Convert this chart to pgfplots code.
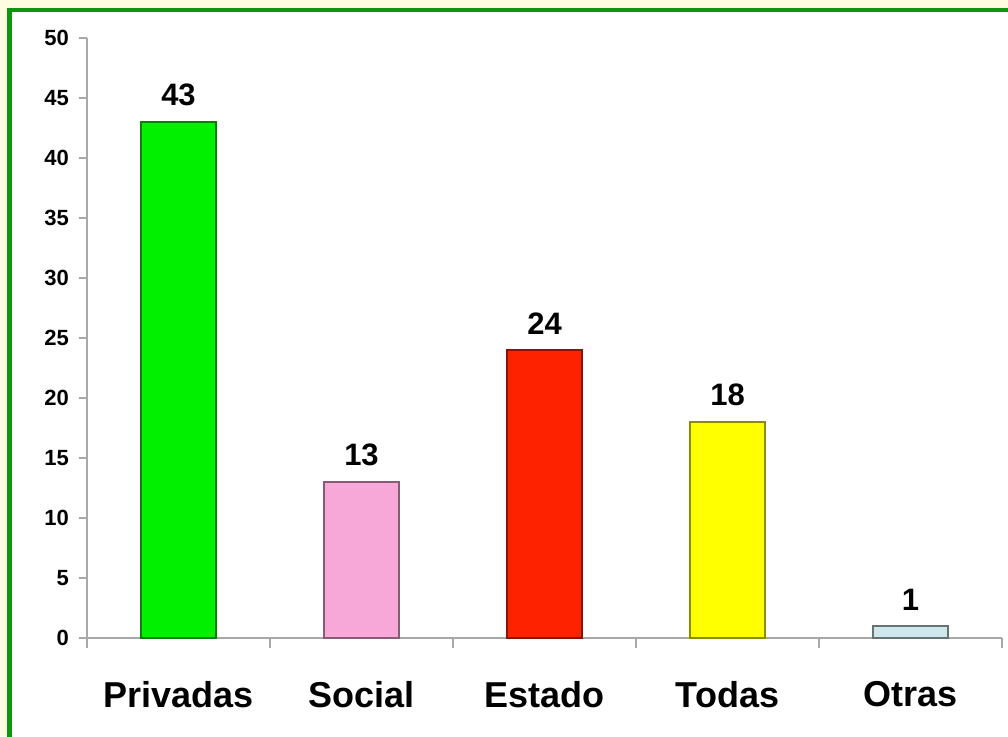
\documentclass[border=0pt]{standalone}
\usepackage{pgfplots}
\pgfplotsset{compat=1.18}
\usepackage{fontspec}
\setmainfont{Liberation Sans}
\definecolor{bgyellow}{HTML}{FFFCE0}
\definecolor{framegreen}{HTML}{109510}
\definecolor{cgreen}{HTML}{00F000}
\definecolor{cpink}{HTML}{F8A8D8}
\definecolor{cred}{HTML}{FF2200}
\definecolor{cyellow}{HTML}{FFFF00}
\definecolor{ccyan}{HTML}{CDE7EA}
\definecolor{axgray}{HTML}{A8A8A8}
\begin{document}
\begin{tikzpicture}[x=1pt,y=1pt]
\useasboundingbox (0,0) rectangle (1008,736);
\clip (0,0) rectangle (1008,736);
\fill[bgyellow] (0,0) rectangle (1008,736);
\fill[framegreen] (7,-20) rectangle (1030,728);
\fill[white] (11.5,-20) rectangle (1030,723.5);
\begin{axis}[
  at={(87pt,98pt)}, anchor=south west,
  scale only axis,
  width=915pt, height=600pt,
  xmin=-0.5, xmax=4.5, ymin=0, ymax=50,
  axis x line*=bottom, axis y line*=left,
  axis line style={draw=axgray, line width=1.8pt, -},
  xtick={0,1,2,3,4},
  xticklabels={Privadas,Social,Estado,Todas,Otras},
  minor xtick={-0.5,0.5,1.5,2.5,3.5,4.5},
  major x tick style={draw=none},
  minor x tick style={draw=axgray, line width=1.8pt},
  minor tick length=10pt,
  ytick={0,5,...,50},
  major y tick style={draw=axgray, line width=1.8pt},
  major tick length=8pt,
  tick align=outside,
  /pgf/number format/assume math mode=true,
  yticklabel style={font=\fontsize{22}{22}\selectfont\bfseries, inner sep=0pt, xshift=-10pt},
  xticklabel style={font=\fontsize{36}{36}\selectfont\bfseries, inner sep=0pt, yshift=-35pt},
  ybar, bar width=75pt, bar shift=0pt,
  nodes near coords,
  nodes near coords style={font=\fontsize{31}{31}\selectfont\bfseries, inner sep=0pt, yshift=15pt, anchor=south, text=black},
  clip=false,
]
\addplot[fill=cgreen, draw=cgreen!55!black, line width=1.5pt] coordinates {(0,43)};
\addplot[fill=cpink, draw=cpink!55!black, line width=1.5pt] coordinates {(1,13)};
\addplot[fill=cred, draw=cred!55!black, line width=1.5pt] coordinates {(2,24)};
\addplot[fill=cyellow, draw=cyellow!55!black, line width=1.5pt] coordinates {(3,18)};
\addplot[fill=ccyan, draw=ccyan!50!black, line width=1.5pt] coordinates {(4,1)};
\end{axis}
\end{tikzpicture}
\end{document}
